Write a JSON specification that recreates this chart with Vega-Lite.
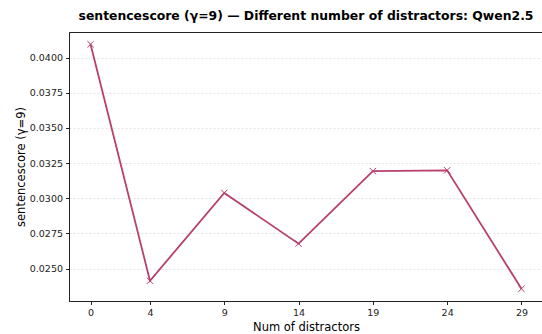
{
  "$schema": "https://vega.github.io/schema/vega-lite/v6.json",
  "width": 474,
  "height": 269,
  "autosize": {"type": "none"},
  "padding": {"left": 69, "top": 32, "right": 0, "bottom": 33},
  "background": "white",
  "title": {
    "text": "sentencescore (γ=9) — Different number of distractors: Qwen2.5",
    "font": "DejaVu Sans",
    "fontSize": 12.4,
    "fontWeight": "bold",
    "color": "#000000",
    "anchor": "middle",
    "frame": "group",
    "offset": 10
  },
  "data": {
    "values": [
      {"distractors": 0, "score": 0.04096},
      {"distractors": 4, "score": 0.02413},
      {"distractors": 9, "score": 0.03038},
      {"distractors": 14, "score": 0.02677},
      {"distractors": 19, "score": 0.03193},
      {"distractors": 24, "score": 0.03199},
      {"distractors": 29, "score": 0.02356}
    ]
  },
  "config": {
    "view": {"stroke": "#222222", "strokeWidth": 1},
    "axis": {
      "labelFont": "DejaVu Sans",
      "titleFont": "DejaVu Sans",
      "labelFontSize": 9.5,
      "titleFontSize": 11.5,
      "titleFontWeight": "normal",
      "labelColor": "#222222",
      "titleColor": "#000000",
      "domainColor": "#222222",
      "tickColor": "#222222",
      "tickSize": 3.5,
      "labelPadding": 3
    }
  },
  "encoding": {
    "x": {
      "field": "distractors",
      "type": "quantitative",
      "scale": {"domain": [-1.45, 30.45], "nice": false, "zero": false},
      "axis": {
        "title": "Num of distractors",
        "values": [0, 4, 9, 14, 19, 24, 29],
        "grid": false,
        "titlePadding": 4
      }
    },
    "y": {
      "field": "score",
      "type": "quantitative",
      "scale": {"domain": [0.02269, 0.04183], "nice": false, "zero": false},
      "axis": {
        "title": "sentencescore (γ=9)",
        "values": [0.025, 0.0275, 0.03, 0.0325, 0.035, 0.0375, 0.04],
        "format": ".4f",
        "grid": true,
        "gridColor": "#d4d4d4",
        "gridDash": [2, 2],
        "gridWidth": 0.6,
        "titlePadding": 3
      }
    }
  },
  "layer": [
    {
      "mark": {"type": "line", "color": "#b8406e", "strokeWidth": 1.8}
    },
    {
      "mark": {
        "type": "point",
        "shape": "M-1,-1L1,1M-1,1L1,-1",
        "size": 40,
        "filled": false,
        "stroke": "#b8406e",
        "strokeWidth": 1,
        "opacity": 1
      }
    }
  ]
}
